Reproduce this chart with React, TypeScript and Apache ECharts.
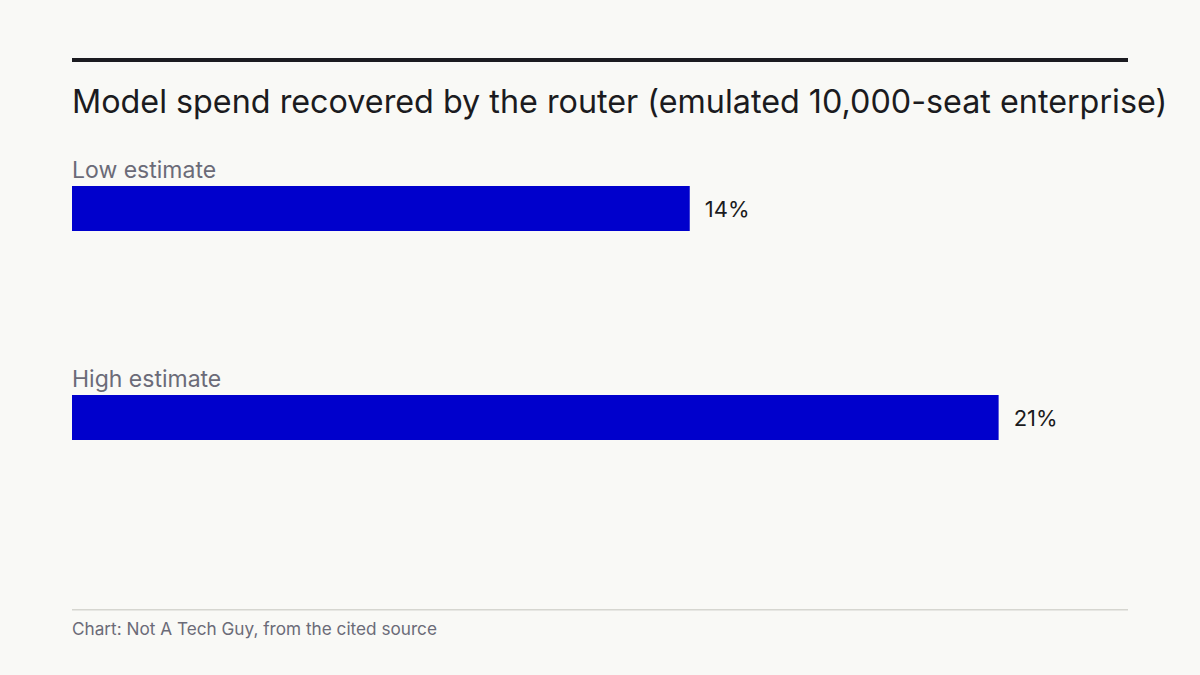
import { useEffect, useRef } from 'react';
import * as echarts from 'echarts';

const categories = ['Low estimate', 'High estimate'];
const values = [14, 21];
const title = 'Model spend recovered by the router (emulated 10,000-seat enterprise)';
const footer = 'Chart: Not A Tech Guy, from the cited source';

const FONT = 'Inter, "Liberation Sans", sans-serif';

export default function App() {
  const chartRef = useRef<HTMLDivElement>(null);

  useEffect(() => {
    if (!chartRef.current) return;
    document.body.style.margin = '0';
    const chart = echarts.init(chartRef.current, null, { renderer: 'svg' });

    const option: any = {
      animation: false,
      backgroundColor: '#f9f9f6',
      textStyle: { fontFamily: FONT },
      title: {
        text: title,
        left: 72,
        top: 85,
        padding: 0,
        textStyle: { fontSize: 32.3, fontWeight: 'normal', color: '#1b1b20', fontFamily: FONT }
      },
      grid: { left: 72, width: 1059, top: 104, height: 418 },
      xAxis: {
        type: 'value',
        min: 0,
        max: 24,
        show: false
      },
      yAxis: {
        type: 'category',
        data: categories,
        inverse: true,
        axisLine: { show: false },
        axisTick: { show: false },
        splitLine: { show: false },
        axisLabel: {
          inside: true,
          margin: 0,
          align: 'left',
          verticalAlign: 'bottom',
          padding: [0, 0, 27, 0],
          fontSize: 23,
          color: '#6b6b78',
          fontFamily: FONT
        }
      },
      series: [
        {
          type: 'bar',
          data: values,
          barWidth: 45,
          itemStyle: { color: '#0000cc' },
          label: {
            show: true,
            position: 'right',
            distance: 15,
            formatter: '{c}%',
            fontSize: 22,
            color: '#1b1b20',
            fontFamily: FONT
          }
        }
      ],
      graphic: [
        {
          type: 'rect',
          shape: { x: 72, y: 58, width: 1056, height: 4 },
          style: { fill: '#1b1b20' }
        },
        {
          type: 'rect',
          shape: { x: 72, y: 609, width: 1056, height: 1.5 },
          style: { fill: '#d6d6d0' }
        },
        {
          type: 'text',
          x: 72,
          y: 620,
          style: { text: footer, fontSize: 17.2, fill: '#6b6b78', fontFamily: FONT }
        }
      ]
    };

    chart.setOption(option);
    return () => chart.dispose();
  }, []);

  return <div ref={chartRef} style={{ width: 1200, height: 675 }} />;
}
